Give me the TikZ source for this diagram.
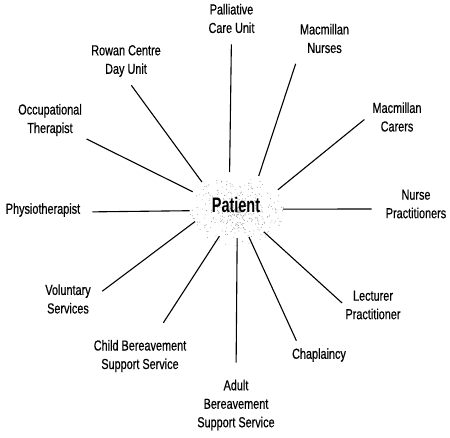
\documentclass[tikz,border=0pt]{standalone}
\usepackage{fontspec}
\setmainfont{Liberation Sans}[FakeStretch=0.75, FakeBold=0.5]
\newfontfamily\patfont{Liberation Sans}[FakeStretch=0.69]
\usepackage{tikz}
\usetikzlibrary{shapes.geometric, calc}
\definecolor{speckgray}{RGB}{140, 140, 140}
\tikzset{
  carer/.style={align=center, inner sep=1pt, font=\fontsize{14.5}{18.5}\selectfont},
  hub/.style={ellipse, minimum width=94pt, minimum height=66pt, inner sep=0pt,
    font=\patfont\bfseries\fontsize{21}{24}\selectfont},
  spoke/.style={draw=black, line width=1.1pt}
}
\begin{document}
\begin{tikzpicture}[x=1pt, y=-1pt]
    \useasboundingbox (0,0) rectangle (450,437);
    % Speckled cloud behind the patient
    \coordinate (cloud) at (237,211);
    \pgfmathsetseed{42}
    \foreach \k in {1,...,420} {
      \pgfmathsetmacro\ang{360*rnd}
      \pgfmathsetmacro\rad{rnd}
      \pgfmathsetmacro\dx{47*\rad*cos(\ang)}
      \pgfmathsetmacro\dy{35*\rad*sin(\ang)}
      \fill[speckgray] ($(cloud)+(\dx,\dy)$) circle[radius=0.45pt];
    }
    % Patient
    \node[hub] (pat) at (236,205) {Patient};
    % Services round the patient
    \node[carer] (pcu) at (231.5,18.5) {Palliative\\Care Unit};
    \node[carer] (mnurse) at (324.5,38.5) {Macmillan\\Nurses};
    \node[carer] (rowan) at (126,61) {Rowan Centre\\Day Unit};
    \node[carer] (mcarer) at (397,117) {Macmillan\\Carers};
    \node[carer] (occ) at (50,120) {Occupational\\Therapist};
    \node[carer] (physio) at (43,210) {Physiotherapist};
    \node[carer] (nursepr) at (416,204) {Nurse\\Practitioners};
    \node[carer] (volun) at (68,299) {Voluntary\\Services};
    \node[carer] (child) at (140,356) {Child Bereavement\\Support Service};
    \node[carer] (adult) at (236,405) {Adult\\Bereavement\\Support Service};
    \node[carer] (chap) at (319,355) {Chaplaincy};
    \node[carer] (lect) at (373,305) {Lecturer\\Practitioner};
    % Spokes
    \draw[spoke, shorten >=10pt] (pat.101) -- (pcu.south);
    \draw[spoke, shorten >=10pt] (pat.52) -- (mnurse.south west);
    \draw[spoke, shorten >=9pt] (pat.146) -- (rowan.south);
    \draw[spoke, shorten >=9pt] (pat.20) -- (mcarer.173);
    \draw[spoke, shorten >=4pt] (pat.163) -- (occ.south east);
    \draw[spoke, shorten >=11pt] (pat.187) -- ([yshift=-2pt]physio.east);
    \draw[spoke, shorten >=13pt] (pat.355) -- ([yshift=-5pt]nursepr.west);
    \draw[spoke, shorten >=13pt] (pat.202) -- (volun.east);
    \draw[spoke, shorten >=19pt] (pat.242) -- (child.53);
    \draw[spoke, shorten >=16pt] (pat.272) -- (adult.north);
    \draw[spoke, shorten >=7pt] (pat.292) -- (chap.158);
    \draw[spoke, shorten >=3pt] (pat.316) -- (lect.west);
  \end{tikzpicture}
\end{document}
